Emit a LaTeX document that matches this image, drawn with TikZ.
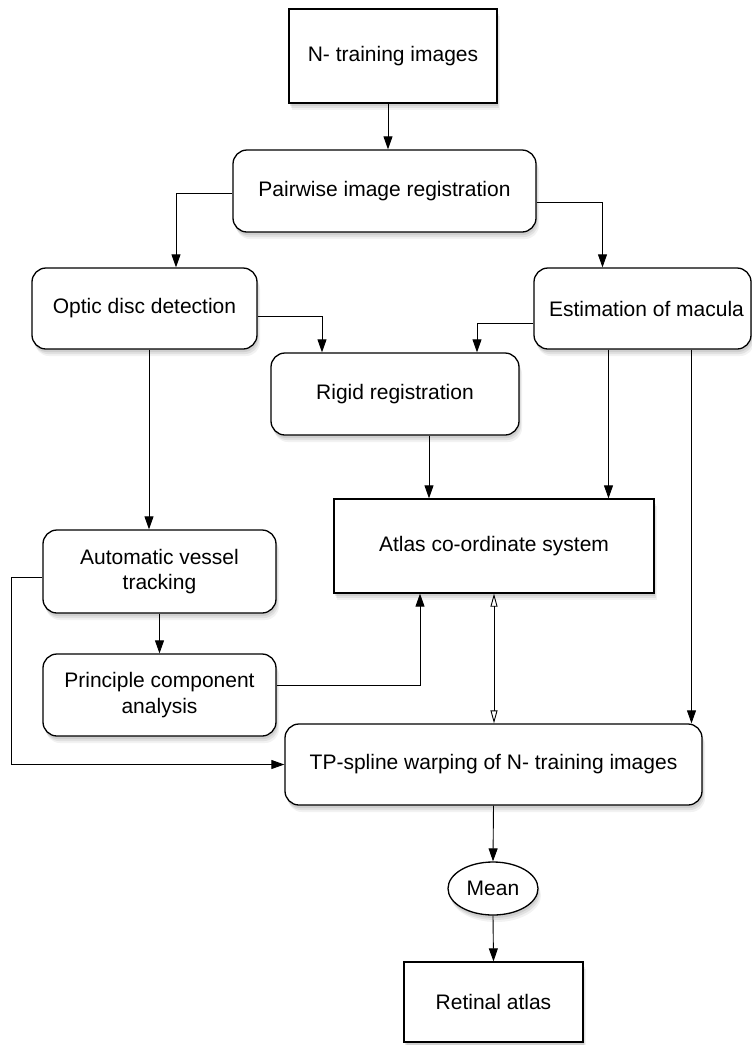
\documentclass[tikz,border=0pt]{standalone}
\usepackage{fontspec}
\setmainfont{Liberation Sans}
\usetikzlibrary{arrows.meta,shapes.geometric,shadows,calc}
\begin{document}
\begin{tikzpicture}[x=1pt,y=-1pt,
  every node/.style={font=\fontsize{21}{25.5}\selectfont, align=center, inner sep=0pt},
  boxshadow/.style={
    drop shadow={opacity=0.10, shadow xshift=3pt, shadow yshift=-7pt},
    drop shadow={opacity=0.14, shadow xshift=2pt, shadow yshift=-5pt},
    drop shadow={opacity=0.18, shadow xshift=1pt, shadow yshift=-3pt}},
  sharpbox/.style={draw, line width=1.3pt, fill=white, boxshadow},
  roundbox/.style={draw, line width=1.3pt, fill=white, rounded corners=14pt, boxshadow},
  ovalbox/.style={draw, ellipse, line width=1.3pt, fill=white, boxshadow},
  conn/.style={line width=0.9pt, -{Triangle[length=13pt,width=9pt]}},
  dconn/.style={line width=0.9pt, {Triangle[open,length=13pt,width=7pt]}-{Triangle[open,length=13pt,width=7pt]}}
]
\useasboundingbox (0,0) rectangle (752,1045);
\fill[white] (0,0) rectangle (752,1045);

\node[sharpbox, minimum width=208pt, minimum height=94pt] (N) at (393,56) {N- training images};
\node[roundbox, minimum width=303pt, minimum height=82pt] (P) at (384.5,191) {Pairwise image registration};
\node[roundbox, minimum width=225pt, minimum height=81pt] (O) at (144.5,308.5) {Optic disc detection};
\node[roundbox, minimum width=217pt, minimum height=81pt] (E) at (642.5,308.5) {\hspace*{8pt}Estimation of macula};
\node[roundbox, minimum width=248pt, minimum height=82pt] (R) at (395,394) {Rigid registration};
\node[sharpbox, minimum width=320pt, minimum height=94pt] (A) at (494,546) {Atlas co-ordinate system};
\node[roundbox, minimum width=233pt, minimum height=83pt] (V) at (159.5,571.5) {Automatic vessel\\tracking};
\node[roundbox, minimum width=233pt, minimum height=82pt] (C) at (159.5,695) {Principle component\\analysis};
\node[roundbox, minimum width=417pt, minimum height=81pt] (T) at (493.5,764.5) {TP-spline warping of N- training images};
\node[ovalbox, minimum width=90pt, minimum height=53pt] (M) at (493,888.5) {Mean};
\node[sharpbox, minimum width=179pt, minimum height=80pt] (F) at (493.5,1002) {Retinal atlas};

\coordinate (L) at (11.5,577);

\draw[conn] ([xshift=-5pt]N.south) -- ([xshift=-5pt]N.south |- P.north);
\draw[conn] ([yshift=-2pt]P.west) -| ([xshift=31.5pt]O.north);
\draw[conn] ([yshift=-11pt]P.east) -| ([xshift=-40pt]E.north);
\draw[conn] ([yshift=-7.5pt]O.east) -| ([xshift=-73pt]R.north);
\draw[conn] ([yshift=-14.5pt]E.west) -| ([xshift=82pt]R.north);
\draw[conn] ([xshift=4.5pt]O.south) -- ([xshift=4.5pt]O.south |- V.north);
\draw[conn] ([xshift=34pt]R.south) -- ([xshift=34pt]R.south |- A.north);
\draw[conn] ([xshift=-34pt]E.south) -- ([xshift=-34pt]E.south |- A.north);
\draw[conn] ([xshift=49pt]E.south) -- ([xshift=49pt]E.south |- T.north);
\draw[conn] (V.south) -- (C.north);
\draw[conn] ([yshift=10pt]C.east) -| ([xshift=-74pt]A.south);
\draw[conn] ([yshift=-5.5pt]V.west) -- (L) |- (T.west);
\draw[dconn] (A.south) -- (A.south |- T.north);
\draw[conn] (T.south) -- (M.north);
\draw[conn] (M.south) -- (F.north);
\end{tikzpicture}
\end{document}
